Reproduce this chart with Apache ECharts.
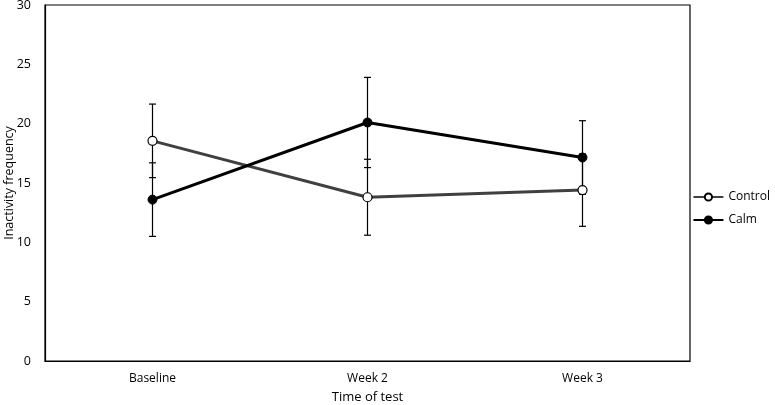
<!DOCTYPE html>
<html><head><meta charset="utf-8">
<script src="https://cdn.jsdelivr.net/npm/echarts@6/dist/echarts.min.js"></script>
<style>html,body{margin:0;padding:0;background:#fff}#c{width:775px;height:405px}</style>
</head><body><div id="c"></div>
<script>
const categories = ['Baseline', 'Week 2', 'Week 3'];
const controlValues = [18.55, 13.8, 14.4];
const controlErr = [3.1, 3.2, 3.05];
const calmValues = [13.6, 20.1, 17.15];
const calmErr = [3.1, 3.8, 3.1];
const yTicks = { min: 0, max: 30, interval: 5 };
const yAxisTitle = 'Inactivity frequency';

const FONT = '"Open Sans", "Liberation Sans", sans-serif';
function errData(vals, errs) { return vals.map((v, i) => [i, v - errs[i], v + errs[i]]); }
function errSeries(name, vals, errs) {
  return {
    type: 'custom', name: name + ' err', silent: true, z: 1,
    data: errData(vals, errs),
    renderItem: function (params, api) {
      const x = api.coord([api.value(0), api.value(1)])[0];
      const lo = api.coord([api.value(0), api.value(1)])[1];
      const hi = api.coord([api.value(0), api.value(2)])[1];
      const w = 3.5;
      const st = { stroke: '#000', lineWidth: 1.2 };
      return { type: 'group', children: [
        { type: 'line', shape: { x1: x, y1: lo, x2: x, y2: hi }, style: st },
        { type: 'line', shape: { x1: x - w, y1: lo, x2: x + w, y2: lo }, style: st },
        { type: 'line', shape: { x1: x - w, y1: hi, x2: x + w, y2: hi }, style: st }
      ]};
    }
  };
}
const chart = echarts.init(document.getElementById('c'), null, { renderer: 'canvas' });
chart.setOption({
  animation: false,
  textStyle: { fontFamily: FONT },
  grid: { left: 45, top: 5, right: 85, bottom: 44, containLabel: false, outerBoundsMode: 'none',
          show: true, borderColor: '#000', borderWidth: 1.2 },
  graphic: [{
    type: 'text', x: 9, y: 183, rotation: Math.PI / 2,
    style: { text: yAxisTitle, fill: '#000', font: '12.5px ' + FONT, align: 'center', verticalAlign: 'middle' }
  }],
  xAxis: {
    type: 'category', data: categories, boundaryGap: true,
    axisLine: { lineStyle: { color: '#000', width: 1.2 } },
    axisTick: { show: false },
    axisLabel: { color: '#000', fontSize: 12, margin: 12, fontFamily: FONT },
    name: 'Time of test', nameLocation: 'middle', nameGap: 30,
    nameTextStyle: { color: '#000', fontSize: 13, fontFamily: FONT }
  },
  yAxis: {
    type: 'value', min: yTicks.min, max: yTicks.max, interval: yTicks.interval,
    axisLine: { show: true, lineStyle: { color: '#000', width: 1.2 } },
    axisTick: { show: false },
    splitLine: { show: false },
    axisLabel: { color: '#000', fontSize: 12.5, margin: 14, fontFamily: FONT }
  },
  legend: {
    orient: 'vertical', right: 0, top: 186, itemGap: 11,
    itemWidth: 30, itemHeight: 9,
    textStyle: { color: '#000', fontSize: 12, fontFamily: FONT },
    data: ['Control', 'Calm']
  },
  series: [
    errSeries('Control', controlValues, controlErr),
    errSeries('Calm', calmValues, calmErr),
    {
      name: 'Control', type: 'line', data: controlValues, z: 3,
      symbol: 'circle', symbolSize: 9,
      lineStyle: { color: '#404040', width: 3 },
      itemStyle: { color: '#fff', borderColor: '#000', borderWidth: 1.2 }
    },
    {
      name: 'Calm', type: 'line', data: calmValues, z: 4,
      symbol: 'circle', symbolSize: 9,
      lineStyle: { color: '#000', width: 3 },
      itemStyle: { color: '#000', borderColor: '#000', borderWidth: 1 }
    }
  ]
});
</script></body></html>
